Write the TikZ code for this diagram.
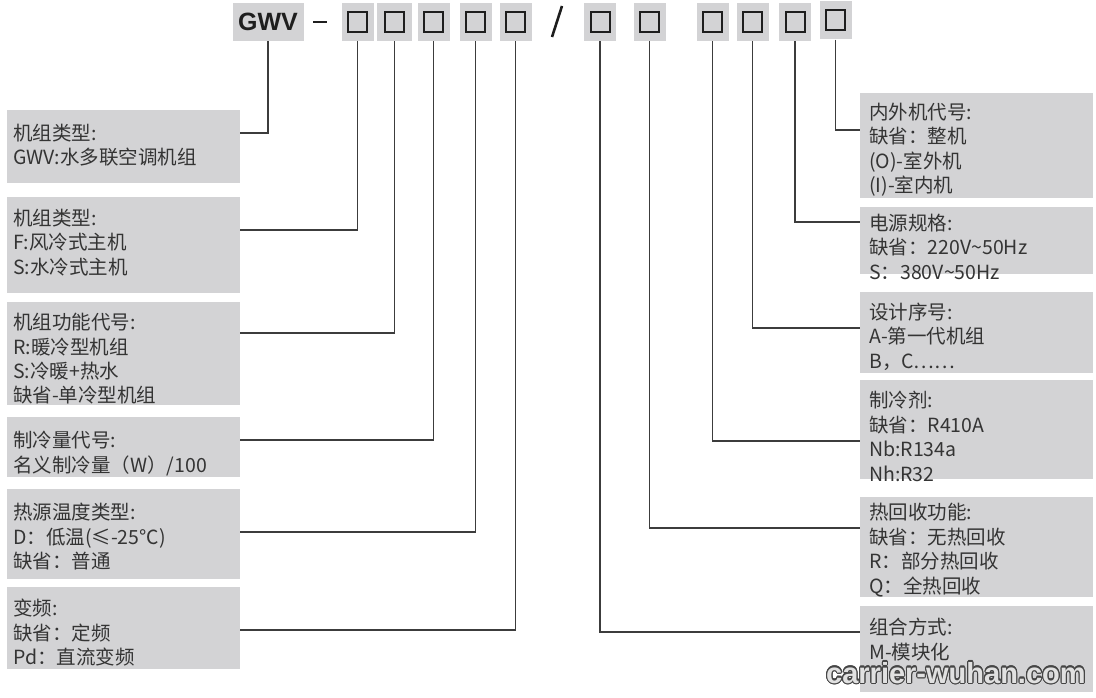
\documentclass[tikz,border=0pt]{standalone}
\usepackage{fontspec}
\setmainfont{Noto Sans CJK SC}
\newfontfamily\gwvfont{Liberation Sans}
\usepackage[copies]{contour}
\usetikzlibrary{calc}
\definecolor{boxgray}{RGB}{211,211,213}
\definecolor{txtc}{RGB}{52,52,52}
\definecolor{linec}{RGB}{60,60,60}
\definecolor{sqc}{RGB}{30,30,30}
\definecolor{wmfill}{RGB}{225,225,225}
\definecolor{wmline}{RGB}{70,70,70}
\newcommand\boxfont{\fontsize{19.5}{24.5}\selectfont}
\newcommand\boxlines[1]{\begin{minipage}[t]{225pt}\raggedright #1\end{minipage}}
\tikzset{
  gbase/.style={fill=boxgray, draw=none, inner sep=0pt, minimum height=38pt},
  sqbox/.style={gbase, minimum width=32pt,
    path picture={\draw[line width=2pt, sqc] ($(path picture bounding box.center)+(-9.5,-10)$) rectangle ++(19,20);}},
  bigbox/.style={fill=boxgray, draw=none, inner sep=0pt, anchor=north west, minimum width=233pt},
  txt/.style={anchor=base west, inner sep=0pt, font=\boxfont, text=txtc},
  conn/.style={draw=linec, line width=1.2pt},
  sepline/.style={draw=sqc, line width=2.6pt}
}
\begin{document}
\begin{tikzpicture}[x=1pt, y=-1pt]
\useasboundingbox (0,0) rectangle (1096,698);
% top code row
\node[gbase, minimum width=71pt, font=\gwvfont\bfseries\fontsize{25}{25}\selectfont, text=sqc] (gwv) at (268,22) {GWV};
\draw[sepline] (313,22) -- (327,22);
\node[sqbox] (b1) at (357.5,22) {};
\node[sqbox, minimum width=35pt] (b2) at (394.5,22) {};
\node[sqbox] (b3) at (433.5,22) {};
\node[sqbox] (b4) at (475.5,22) {};
\node[sqbox] (b5) at (515.5,22) {};
\draw[sepline] (562,6) -- (552,37);
\node[sqbox] (b6) at (600,22) {};
\node[sqbox] (b7) at (649.5,22) {};
\node[sqbox] (b8) at (712.5,22) {};
\node[sqbox] (b9) at (752.5,22) {};
\node[sqbox] (b10) at (795,22) {};
\node[sqbox] (b11) at (835.5,20.5) {};
% left boxes
\node[bigbox, minimum height=73pt] (L1) at (7,110) {};
\node[bigbox, minimum height=96pt] (L2) at (7,197) {};
\node[bigbox, minimum height=103pt] (L3) at (7,302) {};
\node[bigbox, minimum height=60pt] (L4) at (7,417) {};
\node[bigbox, minimum height=90pt] (L5) at (7,489) {};
\node[bigbox, minimum height=82pt] (L6) at (7,587) {};
% right boxes
\node[bigbox, minimum height=105pt] (R1) at (860,93) {};
\node[bigbox, minimum height=67pt] (R2) at (860,207) {};
\node[bigbox, minimum height=81pt] (R3) at (860,292) {};
\node[bigbox, minimum height=99pt] (R4) at (860,380) {};
\node[bigbox, minimum height=100pt] (R5) at (860,497) {};
\node[bigbox, minimum height=86pt] (R6) at (860,606) {};
% texts
\node[txt] (tL1) at (13,140.5) {\boxlines{机组类型:\\GWV:水多联空调机组}};
\node[txt] (tL2) at (13,225.5) {\boxlines{机组类型:\\F:风冷式主机\\S:水冷式主机}};
\node[txt] (tL3) at (13,329.5) {\boxlines{机组功能代号:\\R:暖冷型机组\\S:冷暖+热水\\缺省-单冷型机组}};
\node[txt] (tL4) at (13,447.5) {\boxlines{制冷量代号:\\名义制冷量（W）/100}};
\node[txt] (tL5) at (13,519.5) {\boxlines{热源温度类型:\\D：低温(≤-25℃)\\缺省：普通}};
\node[txt] (tL6) at (13,615.5) {\boxlines{变频:\\缺省：定频\\Pd：直流变频}};
\node[txt] (tR1) at (869,119.5) {\boxlines{内外机代号:\\缺省：整机\\(O)-室外机\\(I)-室内机}};
\node[txt] (tR2) at (869,230.5) {\boxlines{电源规格:\\缺省：220V\textasciitilde 50Hz\\S：380V\textasciitilde 50Hz}};
\node[txt] (tR3) at (869,319.5) {\boxlines{设计序号:\\A-第一代机组\\B，C……}};
\node[txt] (tR4) at (869,407.5) {\boxlines{制冷剂:\\缺省：R410A\\Nb:R134a\\Nh:R32}};
\node[txt] (tR5) at (869,519.5) {\boxlines{热回收功能:\\缺省：无热回收\\R：部分热回收\\Q：全热回收}};
\node[txt] (tR6) at (869,634.5) {\boxlines{组合方式:\\M-模块化}};
% connectors
\draw[conn] (gwv.south) |- ($(L1.north east)+(0,23)$);
\draw[conn] (b1.south) |- ($(L2.north east)+(0,33)$);
\draw[conn] (b2.south) |- ($(L3.north east)+(0,31)$);
\draw[conn] (b3.south) |- ($(L4.north east)+(0,23)$);
\draw[conn] (b4.south) |- ($(L5.north east)+(0,43)$);
\draw[conn] (b5.south) |- ($(L6.north east)+(0,43)$);
\draw[conn] (b6.south) |- ($(R6.north west)+(0,26)$);
\draw[conn] (b7.south) |- ($(R5.north west)+(0,31)$);
\draw[conn] (b8.south) |- ($(R4.north west)+(0,61)$);
\draw[conn] (b9.south) |- ($(R3.north west)+(0,36)$);
\draw[conn] (b10.south) |- ($(R2.north west)+(0,15)$);
\draw[conn] (b11.south) |- ($(R1.north west)+(0,37)$);
% watermark
\node[anchor=base west, inner sep=0pt, font=\gwvfont\bfseries\fontsize{29}{29}\selectfont, text=wmfill] (wm) at (826,683) {\contourlength{1.1pt}\contour{wmline}{carrier-wuhan.com}};
\end{tikzpicture}
\end{document}
